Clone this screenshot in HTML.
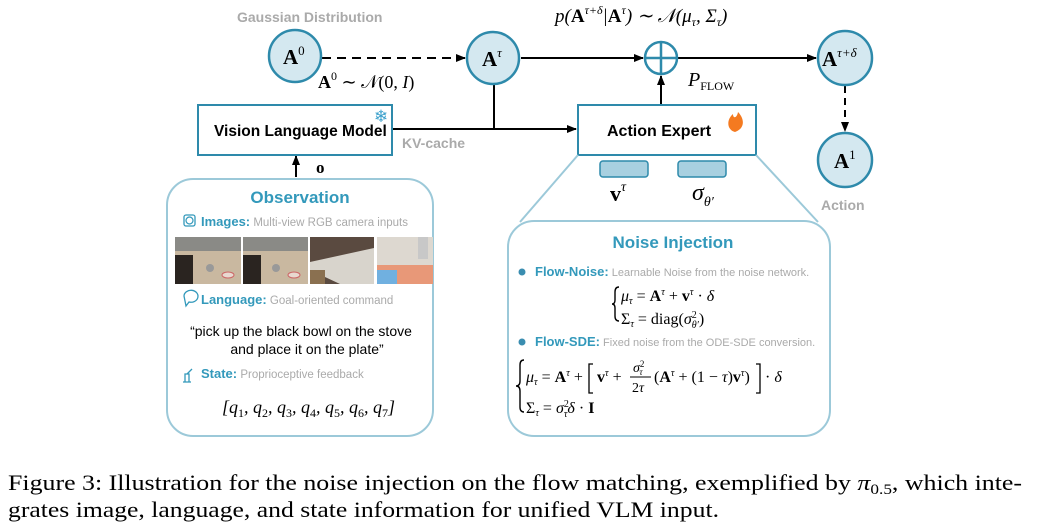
<!DOCTYPE html>
<html><head><meta charset="utf-8"><style>
body{margin:0;background:#fff;}
svg{display:block;}
.m{font-family:"Liberation Serif",serif;}
.s{font-family:"Liberation Sans",sans-serif;}
</style></head><body>
<svg width="1037" height="526" viewBox="0 0 1037 526" xmlns="http://www.w3.org/2000/svg">
<defs>
<marker id="ar" markerWidth="10" markerHeight="10" refX="9" refY="5" orient="auto" markerUnits="userSpaceOnUse"><path d="M0,1 L10,5 L0,9 z" fill="#000"/></marker>
</defs>
<text x="237" y="22" class="s" font-size="14" font-weight="bold" fill="#aaa">Gaussian Distribution</text>
<text x="555" y="22" class="m" font-size="19" font-style="italic">p(<tspan font-weight="bold" font-style="normal">A</tspan><tspan font-size="12" dy="-8">τ+δ</tspan><tspan dy="8">|</tspan><tspan font-weight="bold" font-style="normal">A</tspan><tspan font-size="12" dy="-8">τ</tspan><tspan dy="8">) ∼ 𝒩(μ</tspan><tspan font-size="12" dy="4">τ</tspan><tspan dy="-4">, Σ</tspan><tspan font-size="12" dy="4">τ</tspan><tspan dy="-4">)</tspan></text>

<line x1="322" y1="58" x2="465" y2="58" stroke="#000" stroke-width="2" stroke-dasharray="9,6" marker-end="url(#ar)"/>
<line x1="521" y1="58" x2="643" y2="58" stroke="#000" stroke-width="2" marker-end="url(#ar)"/>
<line x1="678" y1="58" x2="816" y2="58" stroke="#000" stroke-width="2" marker-end="url(#ar)"/>
<line x1="845" y1="86" x2="845" y2="131" stroke="#000" stroke-width="2" stroke-dasharray="7,5" marker-end="url(#ar)"/>
<line x1="393" y1="129" x2="576" y2="129" stroke="#000" stroke-width="2" marker-end="url(#ar)"/>
<line x1="494" y1="85" x2="494" y2="129" stroke="#000" stroke-width="2"/>
<line x1="661" y1="104" x2="661" y2="76" stroke="#000" stroke-width="2" marker-end="url(#ar)"/>
<line x1="296" y1="177" x2="296" y2="156" stroke="#000" stroke-width="2" marker-end="url(#ar)"/>
<text x="316" y="173" class="m" font-size="17" font-weight="bold">o</text>

<circle cx="295" cy="56" r="26" fill="#d4e8f0" stroke="#2e8aab" stroke-width="2.5"/>
<text x="283" y="64" class="m" font-size="21" font-weight="bold">A<tspan font-size="13" font-weight="normal" dy="-9">0</tspan></text>
<circle cx="493" cy="58" r="26" fill="#d4e8f0" stroke="#2e8aab" stroke-width="2.5"/>
<text x="482" y="66" class="m" font-size="21" font-weight="bold">A<tspan font-size="13" font-weight="normal" font-style="italic" dy="-9">τ</tspan></text>
<circle cx="661" cy="58" r="16" fill="#fff" stroke="#2e8aab" stroke-width="2.5"/>
<line x1="645" y1="58" x2="677" y2="58" stroke="#2e8aab" stroke-width="2.5"/>
<line x1="661" y1="42" x2="661" y2="74" stroke="#2e8aab" stroke-width="2.5"/>
<circle cx="845" cy="58" r="27" fill="#d4e8f0" stroke="#2e8aab" stroke-width="2.5"/>
<text x="822" y="66" class="m" font-size="21" font-weight="bold">A<tspan font-size="13" font-weight="normal" font-style="italic" dy="-9">τ+δ</tspan></text>
<circle cx="845" cy="160" r="27" fill="#d4e8f0" stroke="#2e8aab" stroke-width="2.5"/>
<text x="834" y="168" class="m" font-size="21" font-weight="bold">A<tspan font-size="13" font-weight="normal" dy="-9">1</tspan></text>
<text x="821" y="210" class="s" font-size="14" font-weight="bold" fill="#aaa">Action</text>

<text x="318" y="88" class="m" font-size="18"><tspan font-weight="bold">A</tspan><tspan font-size="12" dy="-8">0</tspan><tspan dy="8"> ∼ 𝒩(0, </tspan><tspan font-style="italic">I</tspan>)</text>
<text x="688" y="86" class="m" font-size="20" font-style="italic">P<tspan font-size="12" font-style="normal" dy="4">FLOW</tspan></text>
<text x="402" y="148" class="s" font-size="14" font-weight="bold" fill="#aaa">KV-cache</text>

<rect x="198" y="105" width="194" height="50" fill="#fff" stroke="#2e8aab" stroke-width="2"/>
<text x="214" y="136" class="s" font-size="15.5" font-weight="bold">Vision Language Model</text>
<text x="381" y="122" font-size="17" fill="#3aa0cc" text-anchor="middle" class="s">❄</text>
<rect x="578" y="105" width="178" height="50" fill="#fff" stroke="#2e8aab" stroke-width="2"/>
<text x="607" y="136" class="s" font-size="16" font-weight="bold">Action Expert</text>
<path d="M735,132 C727,130 726,120 733,114 C733,119 737,118 738,112 C744,118 746,128 735,132z" fill="#f47a20"/>

<rect x="600" y="161" width="48" height="16" rx="3" fill="#a8d0e0" stroke="#2e8aab" stroke-width="1.5"/>
<rect x="678" y="161" width="48" height="16" rx="3" fill="#a8d0e0" stroke="#2e8aab" stroke-width="1.5"/>
<text x="610" y="201" class="m" font-size="22" font-weight="bold">v<tspan font-size="14" font-weight="normal" font-style="italic" dy="-10">τ</tspan></text>
<text x="692" y="200" class="m" font-size="24" font-style="italic">σ<tspan font-size="14" dy="6">θ′</tspan></text>

<line x1="578" y1="155" x2="520" y2="222" stroke="#9cc9d9" stroke-width="2"/>
<line x1="756" y1="155" x2="818" y2="222" stroke="#9cc9d9" stroke-width="2"/>

<rect x="167" y="179" width="266" height="257" rx="26" fill="#fff" stroke="#9cc9d9" stroke-width="2"/>
<text x="300" y="203" class="s" font-size="17" font-weight="bold" fill="#3399bb" text-anchor="middle">Observation</text>
<rect x="184" y="215" width="11" height="11" rx="2" fill="none" stroke="#3399bb" stroke-width="1.3"/>
<circle cx="189.5" cy="220.5" r="3.5" fill="none" stroke="#3399bb" stroke-width="1.2"/>
<text x="201" y="226" class="s" font-size="13"><tspan font-weight="bold" fill="#3399bb">Images:</tspan><tspan fill="#aaa" font-size="11.5"> Multi-view RGB camera inputs</tspan></text>
<rect x="175" y="237" width="66" height="47" fill="#c9b8a0"/><rect x="175" y="237" width="66" height="14" fill="#8a8a86"/><rect x="175" y="255" width="18" height="29" fill="#2a2420"/><circle cx="210" cy="268" r="4" fill="#999"/><ellipse cx="228" cy="275" rx="6" ry="3" fill="#e8d8d0" stroke="#c66"/>
<rect x="243" y="237" width="65" height="47" fill="#c9b8a0"/><rect x="243" y="237" width="65" height="14" fill="#8a8a86"/><rect x="243" y="255" width="18" height="29" fill="#2a2420"/><circle cx="276" cy="268" r="4" fill="#999"/><ellipse cx="294" cy="275" rx="6" ry="3" fill="#e8d8d0" stroke="#c66"/>
<rect x="310" y="237" width="64" height="47" fill="#5a4a40"/><polygon points="310,262 374,248 374,284 340,284 310,270" fill="#d8d4cc"/><rect x="310" y="270" width="15" height="14" fill="#8a7050"/>
<rect x="377" y="237" width="56" height="47" fill="#ddd8d0"/><rect x="377" y="265" width="56" height="19" fill="#e89878"/><rect x="377" y="270" width="20" height="14" fill="#70b0e0"/><rect x="418" y="237" width="10" height="22" fill="#c8c8c8"/>
<path d="M184,296 a7,6 0 1,1 5,6 l-3,4 z" fill="none" stroke="#3399bb" stroke-width="1.3"/>
<text x="201" y="304" class="s" font-size="13"><tspan font-weight="bold" fill="#3399bb">Language:</tspan><tspan fill="#aaa" font-size="11.5"> Goal-oriented command</tspan></text>
<text x="301" y="336" class="s" font-size="14" text-anchor="middle">“pick up the black bowl on the stove</text>
<text x="307" y="354" class="s" font-size="14" text-anchor="middle">and place it on the plate”</text>
<path d="M183,382 h8 M185,382 v-8 h4 v8 M187,374 l5,-5" fill="none" stroke="#3399bb" stroke-width="1.3"/>
<text x="201" y="378" class="s" font-size="13"><tspan font-weight="bold" fill="#3399bb">State:</tspan><tspan fill="#aaa" font-size="11.5"> Proprioceptive feedback</tspan></text>
<text x="222" y="413" class="m" font-size="18" font-style="italic">[q<tspan font-size="12" font-style="normal" dy="4">1</tspan><tspan dy="-4">, q</tspan><tspan font-size="12" font-style="normal" dy="4">2</tspan><tspan dy="-4">, q</tspan><tspan font-size="12" font-style="normal" dy="4">3</tspan><tspan dy="-4">, q</tspan><tspan font-size="12" font-style="normal" dy="4">4</tspan><tspan dy="-4">, q</tspan><tspan font-size="12" font-style="normal" dy="4">5</tspan><tspan dy="-4">, q</tspan><tspan font-size="12" font-style="normal" dy="4">6</tspan><tspan dy="-4">, q</tspan><tspan font-size="12" font-style="normal" dy="4">7</tspan><tspan dy="-4">]</tspan></text>

<rect x="508" y="221" width="322" height="215" rx="26" fill="#fff" stroke="#9cc9d9" stroke-width="2"/>
<text x="673" y="248" class="s" font-size="17" font-weight="bold" fill="#3399bb" text-anchor="middle">Noise Injection</text>
<circle cx="522" cy="272" r="3.5" fill="#3a8db0"/>
<text x="535" y="276" class="s" font-size="13"><tspan font-weight="bold" fill="#3399bb">Flow-Noise:</tspan><tspan fill="#aaa" font-size="11"> Learnable Noise from the noise network.</tspan></text>
<path d="M619,287 q-4,0 -4,5 v8 q0,4 -3,4 q3,0 3,4 v8 q0,5 4,5" fill="none" stroke="#000" stroke-width="1.4"/>
<text x="621" y="301" class="m" font-size="16" font-style="italic">μ<tspan font-size="10" dy="3">τ</tspan><tspan dy="-3" font-style="normal"> = </tspan><tspan font-weight="bold" font-style="normal">A</tspan><tspan font-size="10" dy="-6">τ</tspan><tspan dy="6" font-style="normal"> + </tspan><tspan font-weight="bold" font-style="normal">v</tspan><tspan font-size="10" dy="-6">τ</tspan><tspan dy="6" font-style="normal"> · </tspan>δ</text>
<text x="621" y="324" class="m" font-size="16"><tspan>Σ</tspan><tspan font-size="10" font-style="italic" dy="3">τ</tspan><tspan dy="-3"> = diag(</tspan><tspan font-style="italic">σ</tspan><tspan font-size="10" dy="-6">2</tspan><tspan font-size="10" font-style="italic" dx="-5" dy="10">θ′</tspan><tspan dy="-4">)</tspan></text>
<circle cx="522" cy="342" r="3.5" fill="#3a8db0"/>
<text x="535" y="346" class="s" font-size="13"><tspan font-weight="bold" fill="#3399bb">Flow-SDE:</tspan><tspan fill="#aaa" font-size="11"> Fixed noise from the ODE-SDE conversion.</tspan></text>
<path d="M524,360 q-4,0 -4,5 v16 q0,5 -4,5 q4,0 4,5 v16 q0,5 4,5" fill="none" stroke="#000" stroke-width="1.4"/>
<text x="526" y="382" class="m" font-size="16" font-style="italic">μ<tspan font-size="10" dy="3">τ</tspan><tspan dy="-3" font-style="normal"> = </tspan><tspan font-weight="bold" font-style="normal">A</tspan><tspan font-size="10" dy="-6">τ</tspan><tspan dy="6" font-style="normal"> + </tspan></text>
<path d="M593,364 h-4 v29 h4" fill="none" stroke="#000" stroke-width="1.3"/>
<text x="597" y="382" class="m" font-size="16"><tspan font-weight="bold">v</tspan><tspan font-size="10" font-style="italic" dy="-6">τ</tspan><tspan dy="6"> +</tspan></text>
<text x="633" y="372" class="m" font-size="14" font-style="italic">σ<tspan font-size="9" font-style="normal" dy="-5">2</tspan><tspan font-size="9" dx="-5" dy="8">τ</tspan></text>
<line x1="630" y1="377" x2="651" y2="377" stroke="#000" stroke-width="1"/>
<text x="632" y="392" class="m" font-size="14">2<tspan font-style="italic">τ</tspan></text>
<text x="654" y="382" class="m" font-size="16">(<tspan font-weight="bold">A</tspan><tspan font-size="10" font-style="italic" dy="-6">τ</tspan><tspan dy="6"> + (1 − </tspan><tspan font-style="italic">τ</tspan>)<tspan font-weight="bold">v</tspan><tspan font-size="10" font-style="italic" dy="-6">τ</tspan><tspan dy="6">)</tspan></text>
<path d="M756,364 h4 v29 h-4" fill="none" stroke="#000" stroke-width="1.3"/>
<text x="765" y="382" class="m" font-size="16">· <tspan font-style="italic">δ</tspan></text>
<text x="526" y="413" class="m" font-size="16">Σ<tspan font-size="10" font-style="italic" dy="3">τ</tspan><tspan dy="-3"> = </tspan><tspan font-style="italic">σ</tspan><tspan font-size="10" dy="-6">2</tspan><tspan font-size="10" font-style="italic" dx="-5" dy="10">τ</tspan><tspan dy="-4" font-style="italic">δ</tspan> · <tspan font-weight="bold">I</tspan></text>

<text x="8" y="490" class="m" font-size="22.5" textLength="1014" lengthAdjust="spacingAndGlyphs">Figure 3: Illustration for the noise injection on the flow matching, exemplified by <tspan font-style="italic">π</tspan><tspan font-size="15" dy="4">0.5</tspan><tspan dy="-4">, which inte-</tspan></text>
<text x="8" y="517" class="m" font-size="22.5" textLength="711" lengthAdjust="spacingAndGlyphs">grates image, language, and state information for unified VLM input.</text>
</svg>
</body></html>
